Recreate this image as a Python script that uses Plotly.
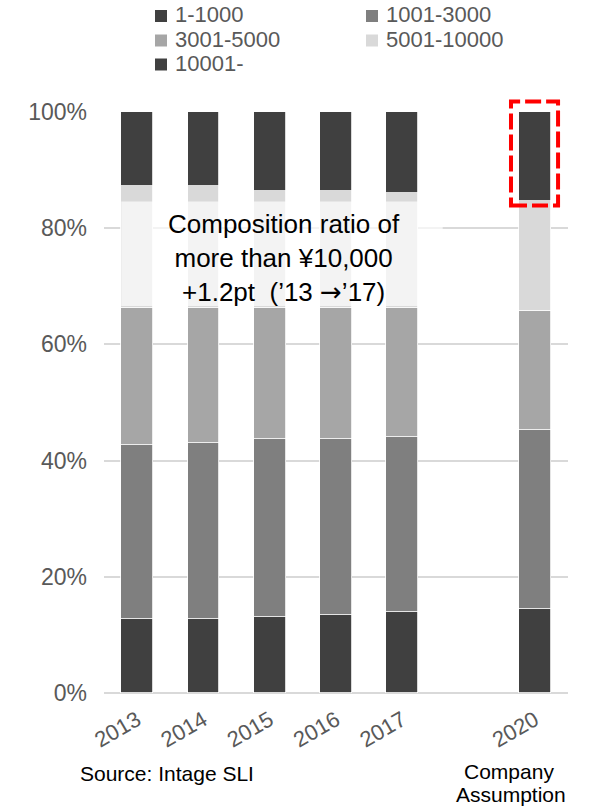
import plotly.graph_objects as go

# Survey years; one empty slot is left between 2017 and the 2020 outlook
years = ["2013", "2014", "2015", "2016", "2017", "2020"]
slots = [0, 1, 2, 3, 4, 6]

price_bands = ["1-1000", "1001-3000", "3001-5000", "5001-10000", "10001-"]
band_colors = ["#404040", "#7f7f7f", "#a6a6a6", "#d9d9d9", "#404040"]

# Share of sales by price band (%)
share_1_1000 = [12.8, 12.8, 13.1, 13.5, 13.9, 14.5]
share_1001_3000 = [29.9, 30.3, 30.7, 30.3, 30.2, 30.7]
share_3001_5000 = [23.5, 23.1, 22.4, 22.4, 22.1, 20.6]
share_5001_10000 = [21.0, 21.0, 20.2, 20.2, 19.8, 18.9]
share_10001_up = [12.8, 12.8, 13.6, 13.6, 14.0, 15.3]

y_ticks = [0, 20, 40, 60, 80, 100]
y_tick_labels = ["0%", "20%", "40%", "60%", "80%", "100%"]

series = [share_1_1000, share_1001_3000, share_3001_5000, share_5001_10000, share_10001_up]

FONT = "Liberation Sans, Arial, sans-serif"
W, H = 589, 809
L, R, T, B = 104, 21, 112, 116
X_RANGE = [-0.5, 6.5]
BAR_W = 0.48


def px_to_paper_x(px):
    return (px - L) / (W - L - R)


def px_to_paper_y(py):
    return (H - B - py) / (H - T - B)


def data_to_paper_x(v):
    return (v - X_RANGE[0]) / (X_RANGE[1] - X_RANGE[0])


fig = go.Figure()
for name, color, vals in zip(price_bands, band_colors, series):
    fig.add_trace(go.Bar(
        x=slots, y=vals, name=name, width=BAR_W,
        marker=dict(color=color, line=dict(color="#ffffff", width=0.8)),
        showlegend=False,
    ))

shapes = []
annotations = []

# Translucent text panel over the 5001-10000 band
shapes.append(dict(
    type="rect", xref="x", yref="y",
    x0=slots[0] - BAR_W / 2, x1=4.61, y0=66.6, y1=84.6,
    fillcolor="rgba(255,255,255,0.68)", line=dict(width=0), layer="above",
))

change = round(share_10001_up[4] - share_10001_up[0], 1)
arrow = '<span style="font-family:DejaVu Sans">\u2192</span>'
annotations.append(dict(
    xref="paper", yref="paper", x=px_to_paper_x(284), y=px_to_paper_y(258),
    text=("Composition ratio of<br>more than \u00a510,000<br>"
          f"+{change}pt\u00a0\u00a0(\u2019{years[0][2:]} {arrow}\u2019{years[4][2:]})"),
    showarrow=False, font=dict(family=FONT, size=26, color="#000000"),
    xanchor="center", yanchor="middle", align="center",
))

# Red dashed frame around the 2020 top band
top_2020 = 100
bottom_2020 = 100 - share_10001_up[-1]
shapes.append(dict(
    type="rect", xref="paper", yref="paper",
    x0=data_to_paper_x(slots[-1] - 0.36), x1=data_to_paper_x(slots[-1] + 0.35),
    y0=(bottom_2020 - 0.8) / 100, y1=(top_2020 + 1.8) / 100,
    line=dict(color="#ff0000", width=4, dash="16px,5px"), fillcolor="rgba(0,0,0,0)",
    layer="above",
))

# Two-column legend at the top
col_sq_x = [155, 366]
row_y = [16, 40.5, 64.5]
SQ = 12
for i, (name, color) in enumerate(zip(price_bands, band_colors)):
    c, r = i % 2, i // 2
    sx, sy = col_sq_x[c], row_y[r]
    shapes.append(dict(
        type="rect", xref="paper", yref="paper",
        x0=px_to_paper_x(sx), x1=px_to_paper_x(sx + SQ),
        y0=px_to_paper_y(sy + SQ / 2), y1=px_to_paper_y(sy - SQ / 2),
        fillcolor=color, line=dict(width=0),
    ))
    annotations.append(dict(
        xref="paper", yref="paper", x=px_to_paper_x(sx + SQ + 6), y=px_to_paper_y(sy - 1),
        text=name, showarrow=False, xanchor="left", yanchor="middle",
        font=dict(family=FONT, size=22, color="#595959"),
    ))

annotations.append(dict(
    xref="paper", yref="paper", x=px_to_paper_x(167), y=px_to_paper_y(773),
    text="Source: Intage SLI", showarrow=False, xanchor="center", yanchor="middle",
    font=dict(family=FONT, size=21, color="#000000"),
))
annotations.append(dict(
    xref="paper", yref="paper", x=px_to_paper_x(509), y=px_to_paper_y(771),
    text="Company", showarrow=False, xanchor="center", yanchor="middle",
    font=dict(family=FONT, size=21, color="#000000"),
))
annotations.append(dict(
    xref="paper", yref="paper", x=px_to_paper_x(511), y=px_to_paper_y(794),
    text="Assumption", showarrow=False, xanchor="center", yanchor="middle",
    font=dict(family=FONT, size=21, color="#000000"),
))

fig.update_layout(
    width=W, height=H, autosize=False,
    margin=dict(l=L, r=R, t=T, b=B, pad=0),
    barmode="stack", bargap=0,
    paper_bgcolor="#ffffff", plot_bgcolor="#ffffff",
    font=dict(family=FONT, color="#595959"),
    shapes=shapes, annotations=annotations,
    xaxis=dict(
        range=X_RANGE, tickmode="array", tickvals=slots, ticktext=years,
        tickangle=-30, tickfont=dict(family=FONT, size=22, color="#595959"),
        showgrid=False, zeroline=False, showline=False, ticks="",
        ticklabelstandoff=9,
    ),
    yaxis=dict(
        range=[0, 100], tickmode="array", tickvals=y_ticks, ticktext=y_tick_labels,
        tickfont=dict(family=FONT, size=23, color="#595959"),
        showgrid=True, gridcolor="#d9d9d9", gridwidth=1.5,
        zeroline=True, zerolinecolor="#d9d9d9", zerolinewidth=1.5,
        showline=False, ticks="", ticklabelstandoff=16,
    ),
)

fig.write_html("out.html")
